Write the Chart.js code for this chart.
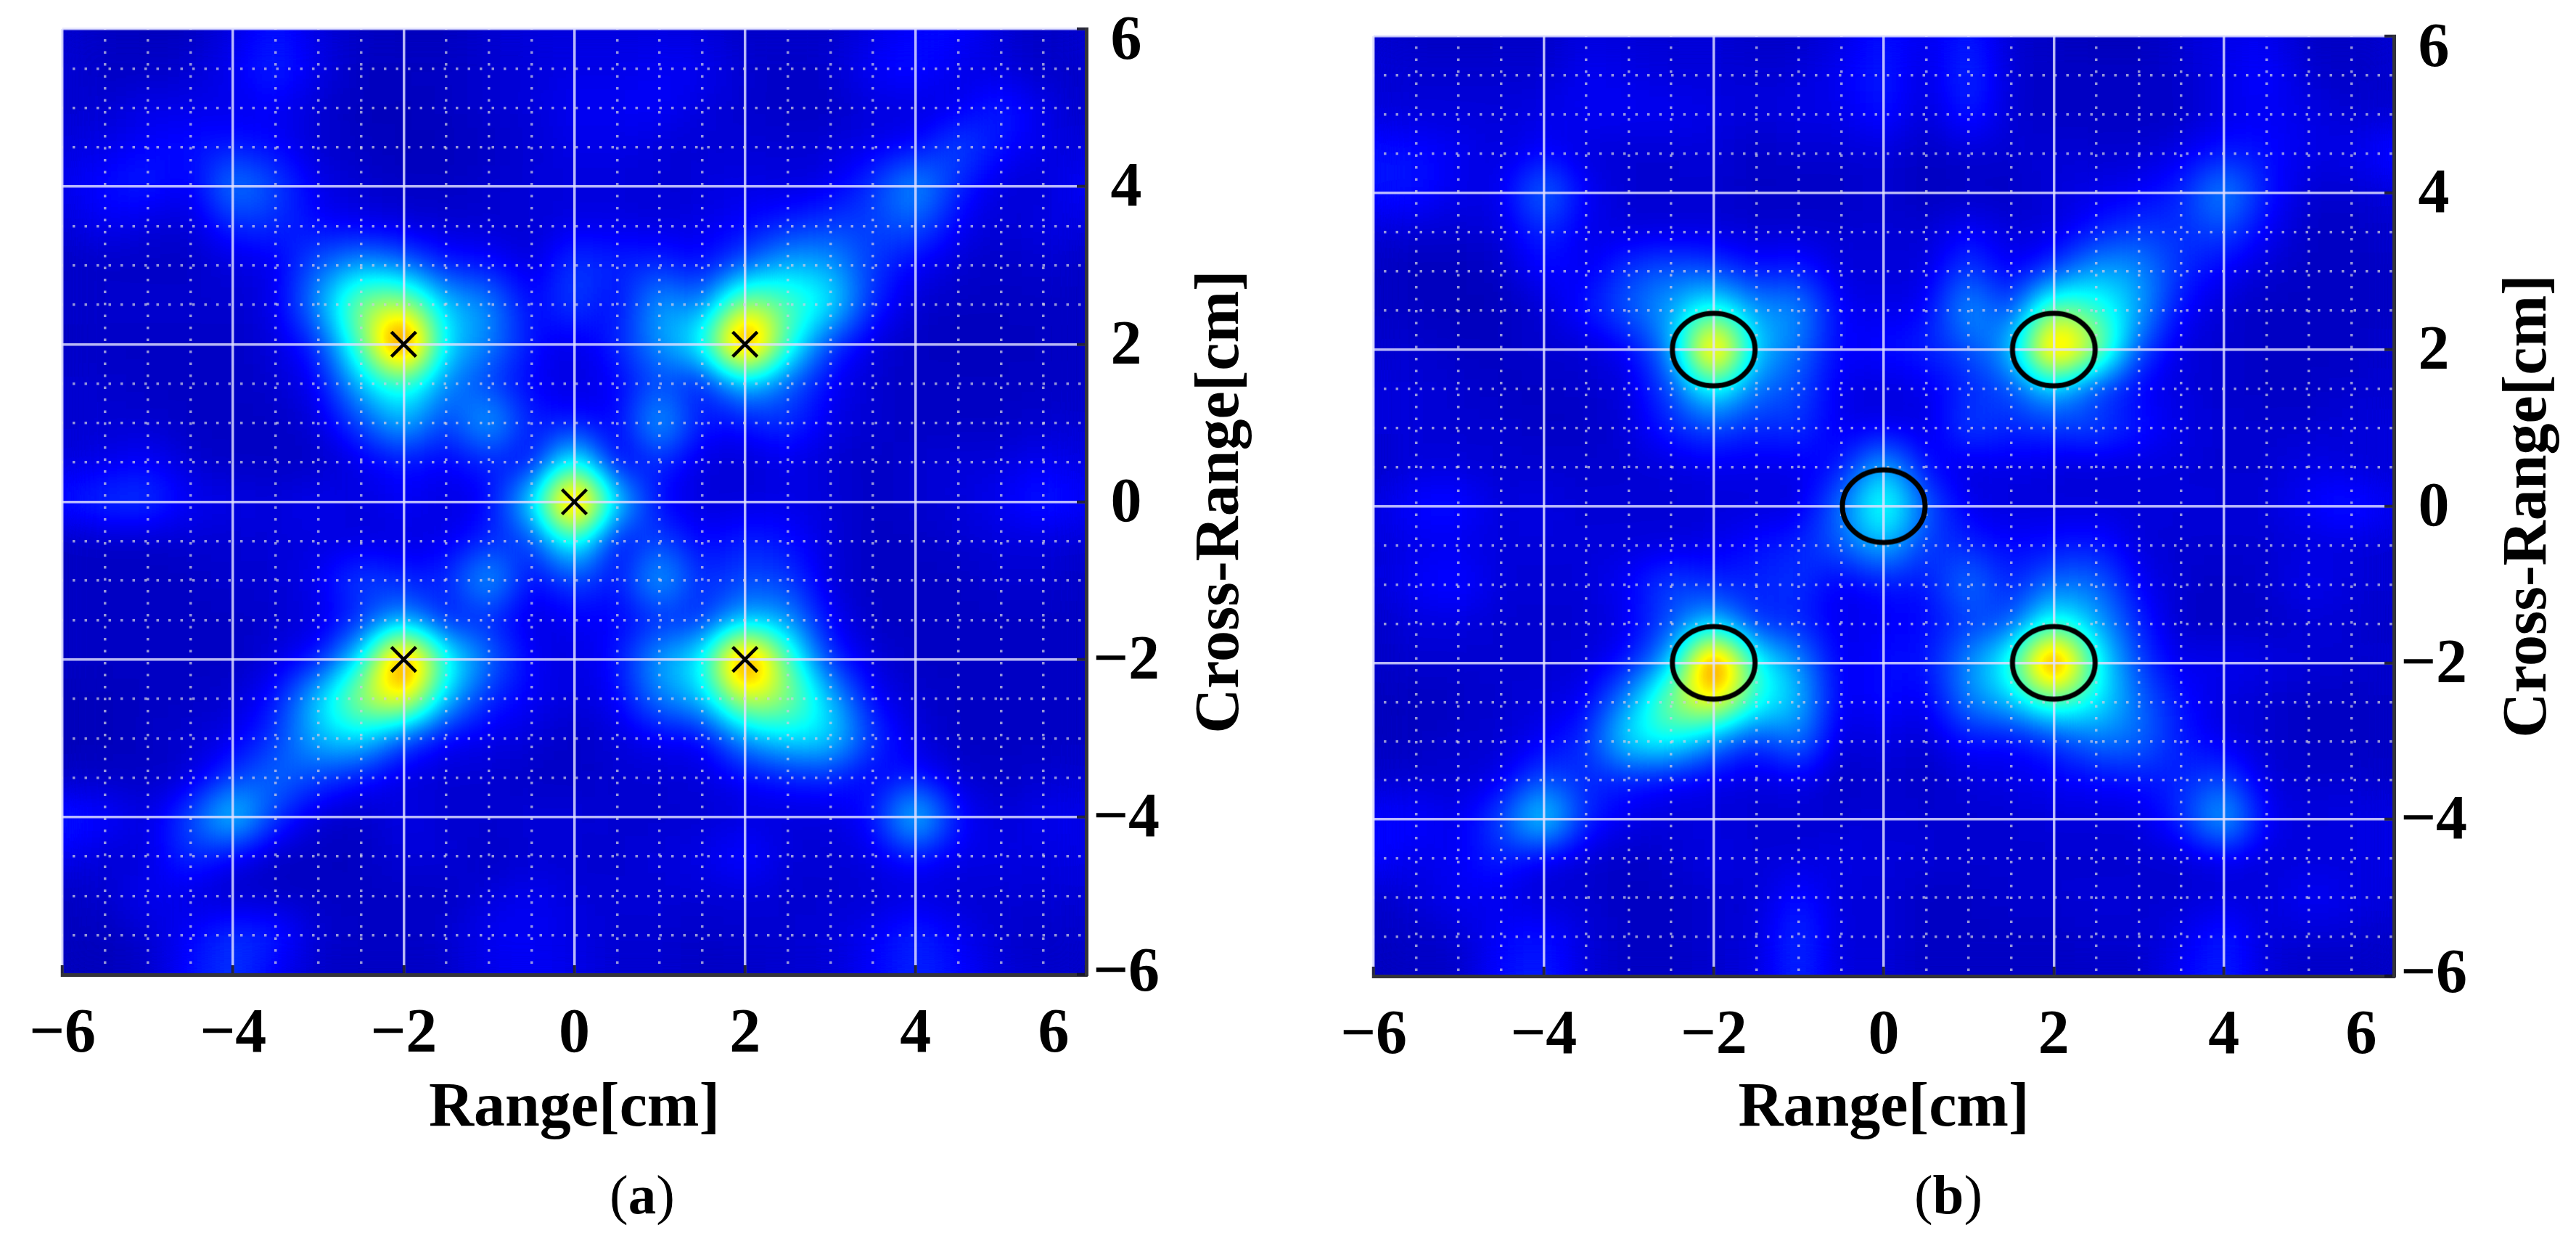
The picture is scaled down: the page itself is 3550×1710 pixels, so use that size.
<!DOCTYPE html>
<html>
<head>
<meta charset="utf-8">
<style>
html, body { margin: 0; background: #fff; }
body { width: 3550px; height: 1710px; position: relative; overflow: hidden; }
canvas { position: absolute; top: 0; }
.cap { position: absolute; top: 1602px; width: 200px; text-align: center; font: 77px "Liberation Serif", serif; color: #000; }
</style>
<script src="https://cdn.jsdelivr.net/npm/chart.js@4"></script>
</head>
<body>
<canvas id="plotA" width="1775" height="1710" style="left:0"></canvas>
<canvas id="plotB" width="1775" height="1710" style="left:1775px"></canvas>
<div class="cap" style="left:785px">(<b>a</b>)</div>
<div class="cap" style="left:2585px">(<b>b</b>)</div>
<script>
// grid positions of the image cells, in cm
const rangeCm = [-6,-5.5,-5,-4.5,-4,-3.5,-3,-2.5,-2,-1.5,-1,-0.5,0,0.5,1,1.5,2,2.5,3,3.5,4,4.5,5,5.5,6];
const crossRangeCm = [6,5.5,5,4.5,4,3.5,3,2.5,2,1.5,1,0.5,0,-0.5,-1,-1.5,-2,-2.5,-3,-3.5,-4,-4.5,-5,-5.5,-6];

// image intensity 0-100, one row per crossRangeCm
const heatA = [
  [7,6,5,5,8,12,8,6,5,5,7,8,8,8,8,7,6,7,6,8,10,13,8,6,7],
  [8,6,6,7,10,15,9,6,6,6,7,8,9,9,10,10,7,6,7,11,13,9,8,6,7],
  [7,7,9,9,9,10,7,5,5,6,7,8,10,10,11,8,7,6,6,8,8,9,14,9,6],
  [8,9,11,12,13,11,7,6,5,5,6,7,9,9,8,7,8,7,8,9,11,19,12,9,7],
  [9,12,14,9,25,18,9,7,6,6,7,8,8,8,7,8,9,8,9,16,28,14,8,7,12],
  [7,10,8,7,15,15,11,9,8,7,7,7,9,9,8,9,11,14,17,17,20,10,7,9,8],
  [6,6,6,6,8,9,20,27,22,13,12,8,17,14,15,11,19,29,27,16,10,7,6,7,6],
  [6,7,7,7,7,9,26,52,55,30,25,10,18,10,28,22,55,45,36,14,7,6,6,6,6],
  [6,6,6,6,6,8,15,45,92,32,24,12,8,14,26,38,90,42,16,8,6,5,5,6,6],
  [7,7,6,6,6,7,10,30,42,24,16,10,8,10,18,12,30,20,10,7,6,6,6,6,6],
  [7,7,7,6,6,6,8,18,30,16,30,13,12,10,30,12,12,16,9,7,6,6,6,7,7],
  [8,9,11,7,6,6,6,9,12,10,14,10,40,9,15,8,7,9,7,6,7,8,8,10,8],
  [12,16,17,10,9,8,10,8,11,8,10,34,90,34,10,8,8,9,8,6,7,8,10,14,10],
  [6,6,6,7,7,8,8,8,8,9,14,16,42,10,18,10,14,12,8,6,6,7,8,8,7],
  [6,6,6,6,7,7,10,18,14,14,30,10,18,12,30,14,18,17,8,6,6,6,7,7,6],
  [6,6,6,6,6,7,8,14,26,12,14,8,10,10,14,14,28,26,10,6,6,6,6,6,6],
  [6,6,6,6,6,8,12,34,88,40,22,10,8,12,28,36,90,45,14,8,6,6,6,6,6],
  [5,5,6,6,7,12,32,55,68,30,14,10,8,10,24,30,60,52,30,10,7,6,6,6,6],
  [5,5,6,7,9,16,30,34,18,10,9,8,6,8,10,10,26,34,34,16,8,6,6,6,6],
  [6,6,6,7,16,22,17,12,8,7,7,6,6,7,7,8,11,13,14,10,12,7,6,7,7],
  [14,12,8,18,36,16,7,6,9,7,7,8,8,7,7,7,8,8,8,12,36,12,7,10,9],
  [11,7,8,16,10,6,5,6,8,8,6,7,7,7,8,9,13,8,7,9,13,9,9,8,9],
  [5,7,10,8,6,6,6,6,6,6,8,10,8,7,8,7,8,7,7,7,8,7,7,8,7],
  [6,5,7,11,16,14,7,6,6,7,10,10,9,7,7,6,7,7,8,10,15,10,7,6,7],
  [5,5,6,12,16,9,6,6,6,6,9,10,9,7,7,6,6,7,7,11,14,12,8,7,6]
];
const heatB = [
  [7,6,5,6,6,8,7,7,8,6,6,8,12,9,13,7,6,5,5,7,9,9,6,6,8],
  [8,7,7,7,7,10,9,8,8,7,8,10,14,8,16,7,6,6,6,7,9,12,7,6,7],
  [8,8,8,8,9,10,10,10,9,8,9,9,13,7,14,7,6,6,6,6,9,10,9,7,7],
  [13,12,10,8,11,8,7,7,8,6,7,7,8,6,7,7,8,7,7,9,13,12,9,9,14],
  [12,13,9,9,24,10,7,7,7,6,6,6,7,5,6,6,8,9,10,14,27,13,7,7,8],
  [8,7,7,8,15,9,8,8,8,7,7,7,8,7,11,8,8,13,17,15,18,10,6,6,7],
  [6,5,5,6,12,9,17,20,18,12,14,8,8,8,18,9,16,28,26,15,10,7,6,6,6],
  [6,6,5,5,7,13,20,28,40,26,26,10,9,10,28,16,50,42,28,11,7,6,6,6,6],
  [7,7,6,6,7,7,10,24,85,30,22,10,12,14,18,28,82,55,18,8,7,6,6,6,7],
  [8,8,7,6,6,7,8,18,38,22,18,9,8,9,14,18,30,16,10,8,7,6,6,7,7],
  [8,8,7,7,6,6,8,14,18,14,16,9,9,8,18,14,16,18,13,9,7,7,7,8,8],
  [6,8,8,7,7,7,7,8,9,9,9,12,30,11,8,9,8,7,8,8,7,7,9,8,7],
  [8,12,13,8,9,7,8,7,8,8,8,22,44,20,9,8,8,8,8,8,8,8,11,14,9],
  [7,9,9,8,8,8,8,8,9,12,14,20,30,16,14,11,12,13,8,7,7,7,8,8,7],
  [7,11,13,8,7,8,11,18,14,14,16,9,12,12,24,13,22,22,10,7,6,7,10,8,7],
  [6,8,8,7,7,7,9,18,30,14,14,9,10,11,16,18,40,28,14,6,6,6,7,7,6],
  [6,7,7,7,7,8,12,28,92,38,26,9,12,12,25,40,92,38,17,9,10,9,8,7,7],
  [6,5,6,7,8,10,26,52,65,40,30,9,12,9,24,30,44,36,21,12,8,7,6,6,6],
  [5,6,7,7,10,15,36,38,24,14,24,7,9,7,12,10,15,22,22,13,9,7,6,6,6],
  [7,7,7,9,19,14,13,10,9,8,9,6,7,6,8,9,10,11,12,14,18,8,7,7,6],
  [11,12,9,18,38,14,9,8,8,7,7,7,8,7,7,7,8,8,8,15,32,10,8,9,9],
  [12,9,10,14,9,7,6,7,9,8,8,9,8,8,7,7,7,7,7,7,9,8,8,8,9],
  [6,8,10,9,7,7,6,6,7,7,13,8,8,6,6,7,7,8,7,7,8,8,11,9,8],
  [6,6,7,11,13,8,6,6,7,8,16,8,8,6,6,6,6,7,7,9,14,8,7,7,6],
  [5,6,6,12,14,8,6,6,7,8,15,8,8,6,6,6,6,6,6,11,14,8,6,6,6]
];

// the five scatterers
const targetX = [-2, 2, 0, -2, 2];
const targetY = [2, 2, 0, -2, -2];

const axisMin = -6;
const axisMax = 6;
const rangeTitle = 'Range[cm]';
const crossRangeTitle = 'Cross-Range[cm]';

const labelFont = { family: '"Liberation Serif", serif', weight: 'bold', size: 86 };

// jet colormap
const jetStops = [
  [0, 0, 0, 128], [0.11, 0, 0, 255], [0.36, 0, 255, 255],
  [0.62, 255, 255, 0], [0.87, 255, 0, 0], [1, 128, 0, 0]
];
const jetLut = [];
for (let g = 0; g < 256; g++) {
  const t = g / 255;
  let k = 0;
  while (k < jetStops.length - 2 && t > jetStops[k + 1][0]) k++;
  const a = jetStops[k], b = jetStops[k + 1];
  const f = (t - a[0]) / (b[0] - a[0]);
  jetLut.push([a[1] + (b[1] - a[1]) * f, a[2] + (b[2] - a[2]) * f, a[3] + (b[3] - a[3]) * f]);
}

function heatPoints(rows) {
  const pts = [];
  rows.forEach((row, j) => {
    row.forEach((v, i) => {
      pts.push({ x: rangeCm[i], y: crossRangeCm[j], v: v });
    });
  });
  return pts;
}

// one grey tile per value, sized to a grid cell
const tiles = {};
function cellTile(ctx) {
  const chart = ctx.chart;
  const v = ctx.raw ? ctx.raw.v : 0;
  const w = Math.ceil(Math.abs(chart.scales.x.getPixelForValue(0.5) - chart.scales.x.getPixelForValue(0))) + 1;
  const h = Math.ceil(Math.abs(chart.scales.y.getPixelForValue(0.5) - chart.scales.y.getPixelForValue(0))) + 1;
  const key = v + '_' + w + '_' + h;
  if (!tiles[key]) {
    const c = document.createElement('canvas');
    c.width = w;
    c.height = h;
    const g = Math.round(v * 2.55);
    const t = c.getContext('2d');
    t.fillStyle = `rgb(${g},${g},${g})`;
    t.fillRect(0, 0, w, h);
    tiles[key] = c;
  }
  return tiles[key];
}

function ringImage() {
  const c = document.createElement('canvas');
  c.width = 130;
  c.height = 114;
  const t = c.getContext('2d');
  t.strokeStyle = '#000';
  t.lineWidth = 7;
  t.beginPath();
  t.ellipse(65, 57, 57, 50, 0, 0, Math.PI * 2);
  t.stroke();
  return c;
}

// smooth the grey tiles and colour them through the jet table
const heatPlugin = {
  id: 'heatSmooth',
  afterDatasetDraw(chart, args) {
    if (args.index !== 0) return;
    const a = chart.chartArea;
    const w = Math.round(a.right - a.left);
    const h = Math.round(a.bottom - a.top);
    const tmp = document.createElement('canvas');
    tmp.width = w;
    tmp.height = h;
    const t = tmp.getContext('2d', { willReadFrequently: true });
    t.filter = 'blur(27px)';
    t.drawImage(chart.canvas, a.left, a.top, w, h, 0, 0, w, h);
    t.filter = 'none';
    const img = t.getImageData(0, 0, w, h);
    const d = img.data;
    for (let i = 0; i < d.length; i += 4) {
      const c = jetLut[d[i]];
      d[i] = c[0];
      d[i + 1] = c[1];
      d[i + 2] = c[2];
      d[i + 3] = 255;
    }
    t.putImageData(img, 0, 0);
    chart.ctx.drawImage(tmp, a.left, a.top);
  },
  beforeDraw(chart) {
    // the outer labels sit inside the axis ends
    chart.scales.x.getLabelItems().forEach((it) => {
      if (it.label === '6') it.options.translation[0] -= 45;
    });
    chart.scales.y.getLabelItems().forEach((it) => {
      if (it.label === '6') it.options.translation[1] += 19;
      else if (it.label !== '\u22126') it.options.translation[1] += 4;
    });
  },
  afterDraw(chart) {
    const ctx = chart.ctx;
    // markers go above the grid lines
    chart.getDatasetMeta(1).data.forEach((p) => p.draw(ctx, chart.chartArea));
    ctx.save();
    ctx.translate(chart.chartArea.right + 209, chart.scales.y.getPixelForValue(0));
    ctx.rotate(-Math.PI / 2);
    ctx.font = 'bold 86px "Liberation Serif", serif';
    ctx.fillStyle = '#000';
    ctx.textAlign = 'center';
    ctx.fillText(crossRangeTitle, 0, 0);
    ctx.restore();
  }
};

function tickText(v) {
  if (Math.abs(v % 2) > 1e-6) return '';
  return v < 0 ? '\u2212' + Math.abs(v) : String(v);
}

function isMajor(ctx) {
  return Math.abs(ctx.tick.value % 2) < 1e-6;
}

function axisOptions(position, endValue) {
  return {
    type: 'linear',
    position: position,
    min: axisMin,
    max: axisMax,
    grid: {
      z: 1,
      tickLength: -13,
      lineWidth: (ctx) => isMajor(ctx) ? 3.5 : 3.5,
      color: (ctx) => {
        if (ctx.tick.value === endValue) return 'rgba(0,0,0,0)';
        return isMajor(ctx) ? 'rgba(225,225,255,0.82)' : 'rgba(205,205,225,0.72)';
      },
      tickColor: (ctx) => isMajor(ctx) ? 'rgba(20,20,40,0.9)' : 'rgba(0,0,0,0)',
      tickWidth: 4
    },
    border: {
      z: 1,
      color: '#33333a',
      width: 5,
      dash: (ctx) => isMajor(ctx) ? [] : [3.5, 13],
      dashOffset: -14
    },
    ticks: {
      autoSkip: false,
      stepSize: 0.5,
      maxRotation: 0,
      minRotation: 0,
      color: '#000',
      font: labelFont,
      callback: tickText
    }
  };
}

function makePlot(id, rows, markers, box) {
  const xOpts = axisOptions('bottom', axisMax);
  xOpts.ticks.padding = 45;
  xOpts.title = {
    display: true,
    text: rangeTitle,
    color: '#000',
    font: labelFont,
    padding: { top: 0, bottom: box.xTitleBottom }
  };
  xOpts.afterFit = (s) => {
    s.height = box.xHeight;
    s.paddingLeft = 0;
    s.paddingRight = 0;
  };
  const yOpts = axisOptions('right', axisMin);
  yOpts.ticks.padding = 22;
  yOpts.ticks.crossAlign = 'center';
  yOpts.afterFit = (s) => {
    s.width = box.yWidth;
    s.paddingTop = 0;
    s.paddingBottom = 0;
  };
  return new Chart(document.getElementById(id), {
    type: 'scatter',
    data: {
      datasets: [
        {
          data: heatPoints(rows),
          pointStyle: cellTile,
          pointRadius: 1,
          pointHoverRadius: 1
        },
        Object.assign({
          data: targetX.map((x, i) => ({ x: x, y: targetY[i] }))
        }, markers)
      ]
    },
    options: {
      responsive: false,
      animation: false,
      devicePixelRatio: 1,
      layout: { padding: { left: box.left, top: box.top, right: 0, bottom: 0 } },
      plugins: { legend: { display: false }, tooltip: { enabled: false } },
      scales: { x: xOpts, y: yOpts }
    },
    plugins: [heatPlugin]
  });
}

makePlot('plotA', heatA, {
  pointStyle: 'crossRot',
  pointRadius: 24,
  pointBorderColor: '#000',
  pointBorderWidth: 4.5
}, { left: 86, top: 40, xHeight: 367, yWidth: 278, xTitleBottom: 130 });

makePlot('plotB', heatB, {
  pointStyle: ringImage(),
  pointRadius: 10
}, { left: 118, top: 50, xHeight: 365, yWidth: 251, xTitleBottom: 130 });
</script>
</body>
</html>
